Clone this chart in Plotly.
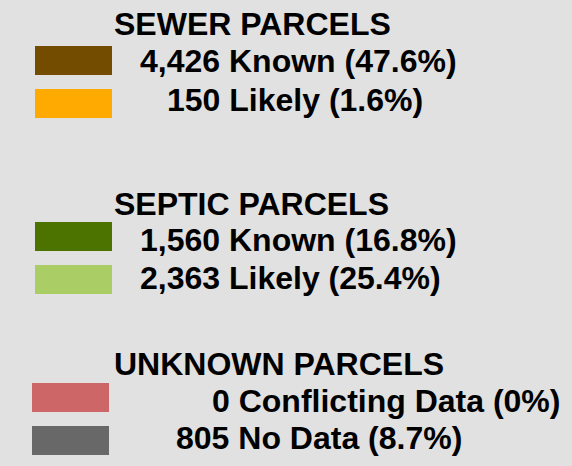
import plotly.graph_objects as go

# ---- data ----
group_titles = ["SEWER PARCELS", "SEPTIC PARCELS", "UNKNOWN PARCELS"]
item_group = [0, 0, 1, 1, 2, 2]
item_labels = ["Known", "Likely", "Known", "Likely", "Conflicting Data", "No Data"]
item_counts = [4426, 150, 1560, 2363, 0, 805]
item_pcts = ["47.6", "1.6", "16.8", "25.4", "0", "8.7"]
item_colors = ["#734C00", "#FFAA00", "#4C7300", "#ABCD66", "#CD6666", "#686868"]

# ---- layout (pixel space) ----
W, H = 572, 466
title_y = [24, 204, 364]
title_x = 115
swatch_y = [60.5, 103.5, 236.5, 279.5, 397.5, 440.5]
swatch_x0 = [35, 35, 35, 35, 32, 32]
swatch_w = 77
swatch_h = 29
text_x = [141, 168, 141, 141, 213, 177]
text_y = [61, 100, 240, 278, 401, 438]

FONT = "Liberation Sans, Arial, sans-serif"
FS = 32

fig = go.Figure()
fig.add_trace(go.Bar(
    orientation="h",
    y=swatch_y,
    x=[swatch_w] * len(swatch_y),
    base=swatch_x0,
    width=swatch_h,
    marker=dict(color=item_colors, line=dict(width=0)),
    hoverinfo="skip",
    showlegend=False,
))

annotations = []
for t, y in zip(group_titles, title_y):
    annotations.append(dict(
        x=title_x, y=y, xref="x", yref="y", text="<b>%s</b>" % t,
        showarrow=False, xanchor="left", yanchor="middle", xshift=-3,
        font=dict(family=FONT, size=FS, color="#000000"),
    ))
for i in range(len(item_labels)):
    txt = f"{item_counts[i]:,} {item_labels[i]} ({item_pcts[i]}%)"
    annotations.append(dict(
        x=text_x[i], y=text_y[i], xref="x", yref="y", text="<b>%s</b>" % txt,
        showarrow=False, xanchor="left", yanchor="middle", xshift=-3,
        font=dict(family=FONT, size=FS, color="#000000"),
    ))

fig.update_layout(
    width=W, height=H,
    margin=dict(l=0, r=0, t=0, b=0),
    paper_bgcolor="#E1E1E1", plot_bgcolor="#E1E1E1",
    xaxis=dict(range=[0, W], visible=False, fixedrange=True),
    yaxis=dict(range=[H, 0], visible=False, fixedrange=True),
    annotations=annotations,
    bargap=0,
)
fig.write_html(
    "out.html",
    config={"displayModeBar": False},
    post_script="document.body.style.margin='0';document.body.style.overflow='hidden';",
)
